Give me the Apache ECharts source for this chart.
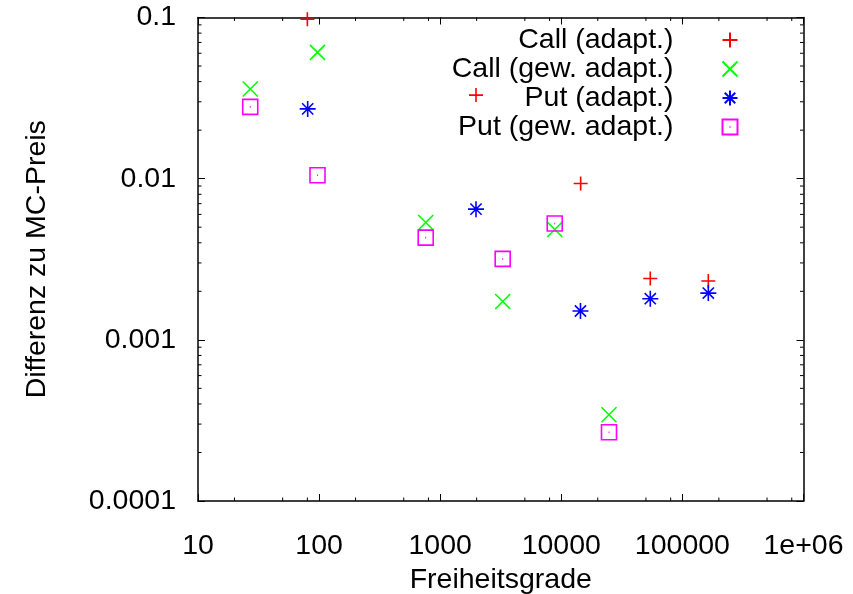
<!DOCTYPE html>
<html>
<head>
<meta charset="utf-8">
<script src="https://cdn.jsdelivr.net/npm/echarts@6/dist/echarts.min.js"></script>
<style>html,body{margin:0;padding:0;background:#fff}#c{width:853px;height:594px}</style>
</head>
<body>
<div id="c"></div>
<script>
// ---- data ----
const seriesNames = ['Call (adapt.)', 'Call (gew. adapt.)', 'Put (adapt.)', 'Put (gew. adapt.)'];
const callAdaptX = [80, 1975, 14450, 54300, 163700];
const callAdaptY = [0.0975, 0.033, 0.00934, 0.0024, 0.00232];
const callGewX = [27, 97, 759, 3281, 8826, 24770];
const callGewY = [0.036, 0.0608, 0.00535, 0.00173, 0.00484, 0.000343];
const putAdaptX = [80.5, 1975, 14400, 54300, 163700];
const putAdaptY = [0.0271, 0.00647, 0.00151, 0.0018, 0.00195];
const putGewX = [27, 97, 759, 3281, 8826, 24770];
const putGewY = [0.0279, 0.0105, 0.00431, 0.00318, 0.00527, 0.000267];
const xTickLabels = ['10', '100', '1000', '10000', '100000', '1e+06'];
const yTickLabels = ['0.0001', '0.001', '0.01', '0.1'];
const xMinorTicks = [20, 50, 80, 200, 500, 800, 2000, 5000, 8000, 20000, 50000, 80000, 200000, 500000, 800000];
const yMinorTicks = [2e-4,3e-4,4e-4,5e-4,6e-4,7e-4,8e-4,9e-4,2e-3,3e-3,4e-3,5e-3,6e-3,7e-3,8e-3,9e-3,2e-2,3e-2,4e-2,5e-2,6e-2,7e-2,8e-2,9e-2];
const xMin = 10, xMax = 1e6, yMin = 1e-4, yMax = 0.1;

const FONT = 'Liberation Sans';
const FS = 28.5;
const zip = (a, b) => a.map((v, i) => [v, b[i]]);

const symPlus = 'path://M0,5L10,5M5,0L5,10';
const symCross = 'path://M0,0L10,10M10,0L0,10';
const symStar = 'path://M0,5L10,5M5,0L5,10M1.5,1.5L8.5,8.5M8.5,1.5L1.5,8.5';
const symBox = 'path://M0,0L10,0L10,10L0,10ZM4.7,5L5.3,5';

function sc(name, data, sym, color, size) {
  return {
    name: name, type: 'scatter', data: data, symbol: sym, symbolSize: size,
    xAxisIndex: 0, yAxisIndex: 0, z: 5,
    itemStyle: { color: 'none', borderColor: color, borderWidth: 1.6, opacity: 1 },
    emphasis: { disabled: true }
  };
}

const axisCommon = {
  type: 'log', logBase: 10,
  axisLine: { show: true, lineStyle: { color: '#000', width: 1.5 } },
  axisTick: { show: true, inside: true, length: 7, lineStyle: { color: '#000', width: 1 } },
  splitLine: { show: false },
  minorTick: { show: false }
};

const chart = echarts.init(document.getElementById('c'), null, { renderer: 'canvas' });
chart.setOption({
  backgroundColor: '#fff',
  animation: false,
  grid: { left: 198, right: 49.5, top: 17.5, bottom: 93, containLabel: false, outerBoundsMode: 'none' },
  legend: {
    data: seriesNames,
    orient: 'vertical',
    align: 'right',
    right: 113, top: 25.5,
    padding: 0, itemGap: 0,
    itemWidth: 15, itemHeight: 15,
    selectedMode: false,
    textStyle: { fontFamily: FONT, fontSize: FS, color: '#000', lineHeight: 29, padding: [0, 44, 0, 0] }
  },
  xAxis: [
    Object.assign({}, axisCommon, {
      position: 'bottom', min: xMin, max: xMax,
      axisLabel: { fontFamily: FONT, fontSize: FS, color: '#000', margin: 31,
        formatter: v => xTickLabels[Math.round(Math.log10(v)) - 1] },
      name: 'Freiheitsgrade', nameLocation: 'middle', nameGap: 64,
      nameTextStyle: { fontFamily: FONT, fontSize: FS, color: '#000' }
    }),
    Object.assign({}, axisCommon, {
      position: 'top', min: xMin, max: xMax, axisLabel: { show: false }
    })
  ],
  yAxis: [
    Object.assign({}, axisCommon, {
      position: 'left', min: yMin, max: yMax,
      axisLabel: { fontFamily: FONT, fontSize: FS, color: '#000', margin: 22,
        formatter: v => yTickLabels[Math.round(Math.log10(v)) + 4] },
      name: 'Differenz zu MC-Preis', nameLocation: 'middle', nameGap: 146, nameRotate: 90,
      nameTextStyle: { fontFamily: FONT, fontSize: FS, color: '#000' }
    }),
    Object.assign({}, axisCommon, {
      position: 'right', min: yMin, max: yMax, axisLabel: { show: false }
    })
  ],
  series: [
    sc(seriesNames[0], zip(callAdaptX, callAdaptY), symPlus, '#ff0000', 14),
    sc(seriesNames[1], zip(callGewX, callGewY), symCross, '#00ff00', 15),
    sc(seriesNames[2], zip(putAdaptX, putAdaptY), symStar, '#0000ff', 16),
    sc(seriesNames[3], zip(putGewX, putGewY), symBox, '#ff00ff', 15),
    {
      type: 'custom', xAxisIndex: 0, yAxisIndex: 0, silent: true, clip: false, z: 3,
      data: xMinorTicks.map(v => [v, yMin]),
      renderItem: function (params, api) {
        const b = api.coord([api.value(0), yMin]);
        const t = api.coord([api.value(0), yMax]);
        return { type: 'group', children: [
          { type: 'line', shape: { x1: b[0], y1: b[1], x2: b[0], y2: b[1] - 3.5 }, style: { stroke: '#000', lineWidth: 1 } },
          { type: 'line', shape: { x1: t[0], y1: t[1], x2: t[0], y2: t[1] + 3.5 }, style: { stroke: '#000', lineWidth: 1 } }
        ] };
      }
    },
    {
      type: 'custom', xAxisIndex: 0, yAxisIndex: 0, silent: true, clip: false, z: 3,
      data: yMinorTicks.map(v => [xMin, v]),
      renderItem: function (params, api) {
        const l = api.coord([xMin, api.value(1)]);
        const r = api.coord([xMax, api.value(1)]);
        return { type: 'group', children: [
          { type: 'line', shape: { x1: l[0], y1: l[1], x2: l[0] + 3.5, y2: l[1] }, style: { stroke: '#000', lineWidth: 1 } },
          { type: 'line', shape: { x1: r[0], y1: r[1], x2: r[0] - 3.5, y2: r[1] }, style: { stroke: '#000', lineWidth: 1 } }
        ] };
      }
    }
  ]
});
</script>
</body>
</html>
